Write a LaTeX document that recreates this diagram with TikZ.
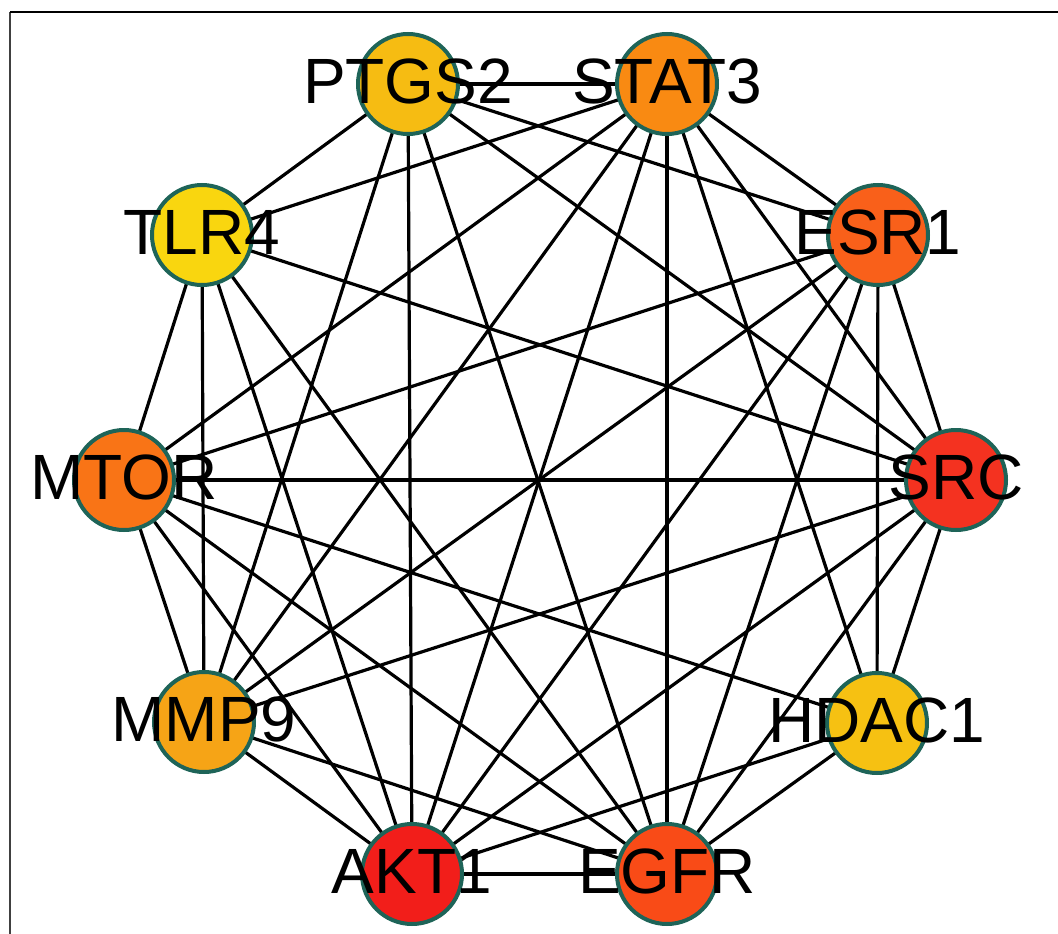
\documentclass[tikz,border=0pt]{standalone}
\usepackage{fontspec}
\setmainfont{Liberation Sans}
\definecolor{cPTGS}{HTML}{F6BC12}
\definecolor{cSTAT}{HTML}{F98A12}
\definecolor{cESR}{HTML}{F9601A}
\definecolor{cSRC}{HTML}{F43220}
\definecolor{cHDAC}{HTML}{F6C112}
\definecolor{cEGFR}{HTML}{F94B17}
\definecolor{cAKT}{HTML}{F21E1A}
\definecolor{cMMP}{HTML}{F6A416}
\definecolor{cMTOR}{HTML}{F97416}
\definecolor{cTLR}{HTML}{F9D60F}
\definecolor{rim}{RGB}{30,100,88}
\begin{document}
\begin{tikzpicture}[x=1pt,y=-1pt,
  gene/.style={circle,draw=rim,line width=4pt,minimum size=100pt,inner sep=0pt},
  genelabel/.style={font=\fontsize{64}{66}\selectfont,text=black,inner sep=0pt,anchor=center},
  link/.style={line width=3.2pt,black}]
\useasboundingbox (0,0) rectangle (1058,934);
% frame
\draw[line width=2pt,black!75] (10,934) -- (10,12);
\draw[line width=2pt,black] (10,12) -- (1058,12);

% node positions
\coordinate (pPTGS2) at (408,84);
\coordinate (pSTAT3) at (667,84);
\coordinate (pESR1)  at (878,235);
\coordinate (pSRC)   at (956,480);
\coordinate (pHDAC1) at (877,723);
\coordinate (pEGFR)  at (667,874);
\coordinate (pAKT1)  at (412,874);
\coordinate (pMMP9)  at (204,722);
\coordinate (pMTOR)  at (124,480);
\coordinate (pTLR4)  at (202,235);

% interactions
\foreach \a/\b in {
  PTGS2/STAT3, PTGS2/TLR4, PTGS2/MMP9, PTGS2/AKT1, PTGS2/EGFR, PTGS2/SRC, PTGS2/ESR1,
  STAT3/TLR4, STAT3/MTOR, STAT3/MMP9, STAT3/AKT1, STAT3/EGFR, STAT3/HDAC1, STAT3/SRC, STAT3/ESR1,
  ESR1/MTOR, ESR1/MMP9, ESR1/AKT1, ESR1/EGFR, ESR1/HDAC1, ESR1/SRC,
  SRC/TLR4, SRC/MTOR, SRC/MMP9, SRC/AKT1, SRC/EGFR, SRC/HDAC1,
  HDAC1/MTOR, HDAC1/AKT1, HDAC1/EGFR,
  EGFR/AKT1, EGFR/MMP9, EGFR/MTOR, EGFR/TLR4,
  AKT1/MMP9, AKT1/MTOR, AKT1/TLR4,
  MMP9/MTOR, MMP9/TLR4,
  MTOR/TLR4}
  \draw[link] (p\a) -- (p\b);

% nodes
\foreach \n/\c in {PTGS2/cPTGS, STAT3/cSTAT, ESR1/cESR, SRC/cSRC, HDAC1/cHDAC,
                   EGFR/cEGFR, AKT1/cAKT, MMP9/cMMP, MTOR/cMTOR, TLR4/cTLR}
  \node[gene,fill=\c] (\n) at (p\n) {};

% labels
\foreach \n in {PTGS2, STAT3, ESR1, SRC, HDAC1, EGFR, AKT1, MMP9, MTOR, TLR4}
  \node[genelabel] (l\n) at ([yshift=3pt]p\n) {\n};
\end{tikzpicture}
\end{document}
